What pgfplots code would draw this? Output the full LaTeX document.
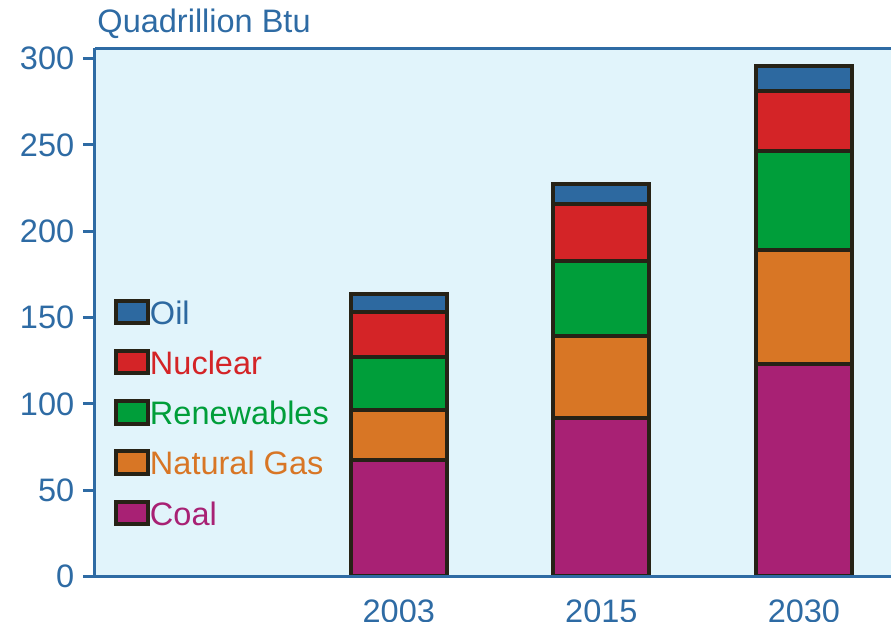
\documentclass[border=0pt]{standalone}
\usepackage{fontspec}
\setmainfont{Liberation Sans}
\usepackage{pgfplots}
\pgfplotsset{compat=1.18}

\definecolor{bgblue}{HTML}{E1F4FB}
\definecolor{axisblue}{HTML}{2E6BA4}
\definecolor{oilc}{HTML}{2D69A0}
\definecolor{nucc}{HTML}{D42427}
\definecolor{renc}{HTML}{009E3A}
\definecolor{gasc}{HTML}{D87625}
\definecolor{coalc}{HTML}{A82174}
\definecolor{barline}{HTML}{262216}

\begin{document}
\begin{tikzpicture}
\begin{axis}[
    scale only axis,
    width=318.4pt, height=211.3pt,
    font=\fontsize{13}{15}\selectfont,
    ybar stacked,
    bar width=0.474,
    xmin=-0.5, xmax=3.43,
    ymin=0, ymax=306,
    xtick={1,2,3},
    xticklabels={2003,2015,2030},
    ytick={0,50,...,300},
    axis x line=box, axis y line=left,
    x axis line style={-}, y axis line style={-},
    axis line style={draw=axisblue, line width=1.2pt},
    axis background/.style={fill=bgblue},
    axis on top,
    xtick style={draw=none},
    ytick style={draw=axisblue, line width=1.2pt},
    ytick pos=left,
    tick align=outside,
    major tick length=4.8pt,
    tick label style={text=axisblue},
    /pgf/number format/assume math mode=true,
    xticklabel style={yshift=-1.1pt},
    every axis plot/.append style={draw=barline, line width=1.6pt},
    legend image code/.code={
        \draw[#1, line width=1.6pt] (-1.2pt,-3.1pt) rectangle (11.6pt,5.9pt);
    },
    reverse legend,
    legend cell align=left,
    legend style={
        draw=none, fill=none, inner sep=0pt, outer sep=0pt,
        at={(axis description cs:0,1)}, anchor=north west,
        xshift=7.6pt, yshift=-100.2pt,
        row sep=7.4pt,
        nodes={inner sep=0pt, text height=9.5pt, text depth=2.5pt},
        /tikz/every even column/.append style={column sep=2.6pt},
    },
]
\addplot[fill=coalc] coordinates {(1,67.5) (2,92) (3,123)};
\addplot[fill=gasc] coordinates {(1,29) (2,47.5) (3,66)};
\addplot[fill=renc] coordinates {(1,30.5) (2,43) (3,57.5)};
\addplot[fill=nucc] coordinates {(1,26.5) (2,33) (3,35)};
\addplot[fill=oilc] coordinates {(1,10) (2,12) (3,14.5)};
\legend{\textcolor{coalc}{Coal},\textcolor{gasc}{Natural Gas},\textcolor{renc}{Renewables},\textcolor{nucc}{Nuclear},\textcolor{oilc}{Oil}}
\coordinate (A) at (rel axis cs:0,0);
\coordinate (B) at (rel axis cs:1,1);
\end{axis}
\node[anchor=base west, text=axisblue, inner sep=0pt, font=\fontsize{13}{15}\selectfont]
    at ([xshift=0.8pt, yshift=6.1pt]A |- B) {Quadrillion Btu};
\pgfresetboundingbox
\path ([xshift=-38pt, yshift=-18.2pt]A) rectangle ([yshift=19.3pt]B);
\end{tikzpicture}
\end{document}
